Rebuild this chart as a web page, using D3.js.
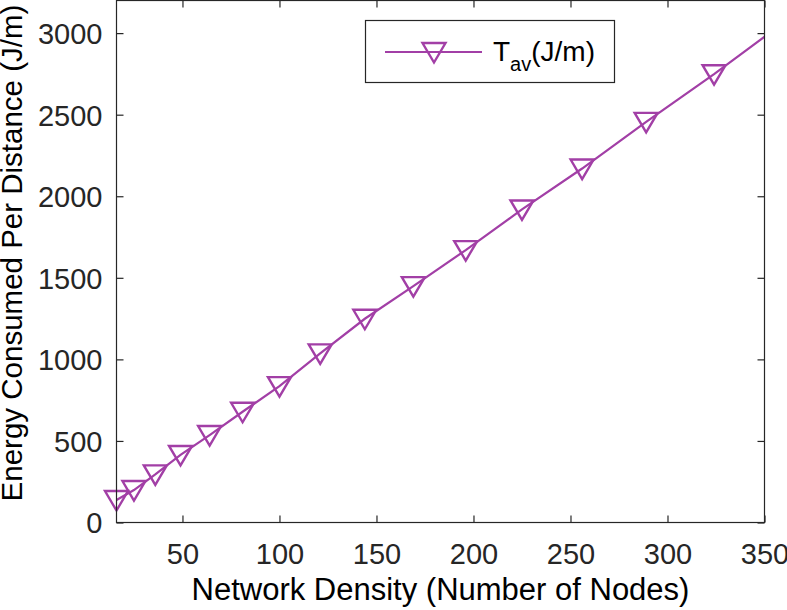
<!DOCTYPE html>
<html>
<head>
<meta charset="utf-8">
<script src="https://cdn.jsdelivr.net/npm/d3@7"></script>
<style>
  body { margin: 0; background: #fff; }
  svg { display: block; font-family: "Liberation Sans", Arial, sans-serif; }
  .tick text { font-size: 29px; fill: #262626; }
  .tick line { stroke: #262626; }
</style>
</head>
<body>
<svg id="chart" width="787" height="610"></svg>
<script>
// Network density (number of nodes) and energy per distance
const nodes = [16, 25, 36, 49, 64, 81, 100, 121, 144, 169, 196, 225, 256, 289, 324, 361];
const energy = [138, 199, 295, 414, 536, 679, 836, 1037, 1249, 1449, 1670, 1919, 2170, 2456, 2748, 3075];
const xTicks = [50, 100, 150, 200, 250, 300, 350];
const yTicks = [0, 500, 1000, 1500, 2000, 2500, 3000];
const seriesName = "T";
const seriesSub = "av";
const seriesUnit = "(J/m)";

const svgWidth = 787;
const svgHeight = 610;
const margin = { left: 116.5, right: 22.5, top: 0.5, bottom: 87.5 };
const contentWidth = svgWidth - margin.left - margin.right;
const contentHeight = svgHeight - margin.top - margin.bottom;
const axisColor = "#262626";
const lineColor = "#a23fa6";

const svg = d3.select("#chart");
const g = svg.append("g").attr("transform", `translate(${margin.left},${margin.top})`);

const xScale = d3.scaleLinear().domain([16, 350]).range([0, contentWidth]);
const yScale = d3.scaleLinear().domain([0, 3200]).range([contentHeight, 0]);

// Axes, ticks pointing inward on all four sides.
const tickLen = 7;
const fmt = d3.format("d");
g.append("g")
  .attr("transform", `translate(0,${contentHeight})`)
  .call(d3.axisBottom(xScale).tickValues(xTicks).tickFormat(fmt).tickSizeInner(-tickLen).tickSizeOuter(0))
  .call(a => a.select(".domain").remove())
  .selectAll("text")
  .attr("y", 41.5).attr("dy", null);
g.append("g")
  .call(d3.axisLeft(yScale).tickValues(yTicks).tickFormat(fmt).tickSizeInner(-tickLen).tickSizeOuter(0))
  .call(a => a.select(".domain").remove())
  .selectAll("text")
  .attr("x", -14).attr("dy", "0.36em");
g.append("g")
  .call(d3.axisTop(xScale).tickValues(xTicks).tickSizeInner(-tickLen).tickSizeOuter(0).tickFormat(""))
  .call(a => a.select(".domain").remove());
g.append("g")
  .attr("transform", `translate(${contentWidth},0)`)
  .call(d3.axisRight(yScale).tickValues(yTicks).tickSizeInner(-tickLen).tickSizeOuter(0).tickFormat(""))
  .call(a => a.select(".domain").remove());

g.selectAll(".tick line").attr("stroke-width", 1.2);

// Clip the line to the axes box; markers are drawn only for points inside it.
svg.append("clipPath").attr("id", "clip")
  .append("rect").attr("width", contentWidth).attr("height", contentHeight);

const data = nodes.map((n, i) => ({ n, e: energy[i] }));

const line = d3.line().x(d => xScale(d.n)).y(d => yScale(d.e));
g.append("path")
  .datum(data)
  .attr("clip-path", "url(#clip)")
  .attr("d", line)
  .attr("fill", "none")
  .attr("stroke", lineColor)
  .attr("stroke-width", 2.2);

const triangle = (cx, cy) => `M${cx - 11.5},${cy - 9}L${cx + 11.5},${cy - 9}L${cx},${cy + 10.5}Z`;
g.selectAll(".marker")
  .data(data.filter(d => d.n <= xScale.domain()[1]))
  .join("path")
  .attr("class", "marker")
  .attr("d", d => triangle(xScale(d.n), yScale(d.e)))
  .attr("fill", "none")
  .attr("stroke", lineColor)
  .attr("stroke-width", 2.4);

// Box
g.append("rect")
  .attr("width", contentWidth)
  .attr("height", contentHeight)
  .attr("fill", "none")
  .attr("stroke", axisColor)
  .attr("stroke-width", 1.2);

// Axis titles
svg.append("text")
  .attr("x", margin.left + contentWidth / 2)
  .attr("y", 600)
  .attr("text-anchor", "middle")
  .attr("font-size", 31)
  .attr("fill", "#000")
  .text("Network Density (Number of Nodes)");

svg.append("text")
  .attr("transform", "translate(22,253) rotate(-90)")
  .attr("text-anchor", "middle")
  .attr("font-size", 29.5)
  .attr("fill", "#000")
  .text("Energy Consumed Per Distance (J/m)");

// Legend
const legend = svg.append("g");
legend.append("rect")
  .attr("x", 365.5).attr("y", 20.5)
  .attr("width", 249).attr("height", 62)
  .attr("fill", "#fff")
  .attr("stroke", axisColor)
  .attr("stroke-width", 1.2);
legend.append("line")
  .attr("x1", 385).attr("x2", 482)
  .attr("y1", 52).attr("y2", 52)
  .attr("stroke", lineColor)
  .attr("stroke-width", 2.2);
legend.append("path")
  .attr("d", triangle(434, 52))
  .attr("fill", "none")
  .attr("stroke", lineColor)
  .attr("stroke-width", 2.4);
const label = legend.append("text")
  .attr("x", 493).attr("y", 61)
  .attr("font-size", 28)
  .attr("fill", "#000");
label.append("tspan").text(seriesName);
label.append("tspan").attr("font-size", 20).attr("dy", 10).text(seriesSub);
label.append("tspan").attr("dy", -10).text(seriesUnit);
</script>
</body>
</html>
